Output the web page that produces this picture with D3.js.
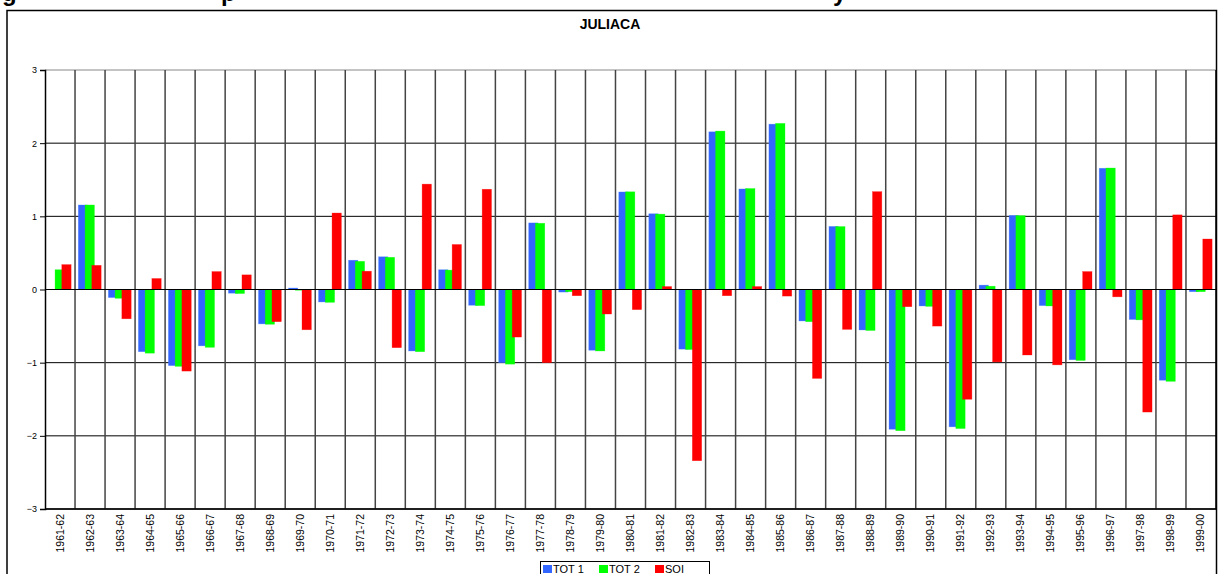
<!DOCTYPE html>
<html><head><meta charset="utf-8">
<script src="https://cdn.jsdelivr.net/npm/d3@7"></script>
<style>body{margin:0;background:#fff}svg{display:block}</style>
</head><body>
<script>
const categories = ["1961-62","1962-63","1963-64","1964-65","1965-66","1966-67","1967-68","1968-69","1969-70","1970-71","1971-72","1972-73","1973-74","1974-75","1975-76","1976-77","1977-78","1978-79","1979-80","1980-81","1981-82","1982-83","1983-84","1984-85","1985-86","1986-87","1987-88","1988-89","1989-90","1990-91","1991-92","1992-93","1993-94","1994-95","1995-96","1996-97","1997-98","1998-99","1999-00"];
const tot1 = [null,1.155,-0.11,-0.85,-1.04,-0.77,-0.05,-0.47,0.02,-0.17,0.40,0.447,-0.84,0.27,-0.215,-1.00,0.91,-0.035,-0.83,1.333,1.035,-0.815,2.155,1.374,2.26,-0.43,0.862,-0.553,-1.91,-0.225,-1.877,0.06,1.013,-0.22,-0.96,1.657,-0.41,-1.24,-0.03];
const tot2 = [0.27,1.155,-0.12,-0.87,-1.05,-0.79,-0.055,-0.475,-0.01,-0.175,0.385,0.44,-0.85,0.265,-0.22,-1.02,0.905,-0.03,-0.84,1.335,1.03,-0.82,2.165,1.38,2.27,-0.44,0.86,-0.56,-1.93,-0.23,-1.90,0.045,1.01,-0.225,-0.97,1.66,-0.415,-1.255,-0.03];
const soi  = [0.34,0.33,-0.40,0.15,-1.115,0.245,0.20,-0.44,-0.55,1.045,0.25,-0.795,1.44,0.615,1.37,-0.65,-1.00,-0.085,-0.335,-0.275,0.04,-2.34,-0.085,0.04,-0.09,-1.215,-0.545,1.337,-0.235,-0.50,-1.50,-0.99,-0.895,-1.03,0.245,-0.10,-1.675,1.02,0.69];
const seriesNames = ["TOT 1","TOT 2","SOI"];
const seriesColors = ["#3366ff","#00ff00","#ff0000"];
const yTicks = [3,2,1,0,-1,-2,-3];
const chartTitle = "JULIACA";

const W = 1219, H = 574;
const svg = d3.select("body").append("svg").attr("width", W).attr("height", H);

// cut-off caption descenders at top (the reference shows only their lower parts)
const capG = svg.append("g").attr("font-family","Liberation Sans, Arial, sans-serif").attr("font-weight","bold").attr("font-size",24).attr("fill","#000");
[["g",2],["p",221],["y",833]].forEach(([t,px])=>capG.append("text").attr("x",px).attr("y",1).text(t));

// frame
svg.append("rect").attr("x",7).attr("y",10.5).attr("width",1209.5).attr("height",600)
  .attr("fill","none").attr("stroke","#000").attr("stroke-width",1.5);

svg.append("text").attr("x",610).attr("y",29).attr("text-anchor","middle")
  .attr("font-family","Liberation Sans, Arial, sans-serif").attr("font-weight","bold").attr("font-size",14)
  .text(chartTitle);

const pL = 45, pR = 1216, pT = 70, pB = 509;
const x = d3.scaleBand().domain(categories).range([pL, pR]).padding(0);
const y = d3.scaleLinear().domain([-3,3]).range([pB, pT]);
const bw = x.bandwidth();
const xs = d3.scaleBand().domain(seriesNames).range([bw*0.11, bw*0.11 + 3*bw*0.225]).padding(0);
const barW = bw*0.31;

// horizontal grid
svg.append("g").selectAll("line").data(yTicks).join("line")
  .attr("x1",pL).attr("x2",pR).attr("y1",d=>y(d)).attr("y2",d=>y(d))
  .attr("stroke",d=>d===3?"#888":"#000").attr("stroke-width",1);
// vertical grid
svg.append("g").selectAll("line").data(categories.slice(1)).join("line")
  .attr("x1",d=>x(d)).attr("x2",d=>x(d)).attr("y1",pT).attr("y2",pB)
  .attr("stroke","#444").attr("stroke-width",1.5);

// bars
const series = [tot1, tot2, soi];
series.forEach((vals, si) => {
  svg.append("g").selectAll("rect").data(categories.map((c,i)=>({c, v: vals[i]})).filter(d=>d.v!==null)).join("rect")
    .attr("x", d => x(d.c) + xs(seriesNames[si]))
    .attr("width", barW)
    .attr("y", d => y(Math.max(0,d.v)))
    .attr("height", d => Math.abs(y(d.v) - y(0)))
    .attr("fill", seriesColors[si])
    .attr("stroke", d3.color(seriesColors[si]).brighter(0.6).copy({opacity:0.5}))
    .attr("stroke-width", 0.6);
});

// zero line on top
svg.append("line").attr("x1",pL).attr("x2",pR).attr("y1",y(0)).attr("y2",y(0)).attr("stroke","#000").attr("stroke-width",1.2);
// plot borders
svg.append("line").attr("x1",pR).attr("x2",pR).attr("y1",pT).attr("y2",pB).attr("stroke","#000").attr("stroke-width",1.5);
svg.append("line").attr("x1",pL).attr("x2",pR).attr("y1",pB).attr("y2",pB).attr("stroke","#000").attr("stroke-width",1.5);

// y axis
const yAxis = svg.append("g").attr("transform",`translate(${pL},0)`)
  .call(d3.axisLeft(y).tickValues(yTicks).tickSize(5).tickFormat(d3.format("d")).tickPadding(3));
yAxis.select(".domain").attr("stroke","#000").attr("stroke-width",1.5);
yAxis.selectAll("text").attr("font-family","Liberation Sans, Arial, sans-serif").attr("font-size",9).attr("fill","#000");

// x labels
svg.append("g").selectAll("text").data(categories).join("text")
  .attr("transform", d => `translate(${x(d)+bw/2+3.5},514) rotate(-90)`)
  .attr("text-anchor","end")
  .attr("font-family","Liberation Sans Narrow, Arial Narrow, sans-serif").attr("font-size",10.5)
  .text(d=>d);

// legend
const lg = svg.append("g");
lg.append("rect").attr("x",540.5).attr("y",561.5).attr("width",169).attr("height",20).attr("fill","#fff").attr("stroke","#000").attr("stroke-width",1);
const lx = [543, 599, 655];
seriesNames.forEach((n,i)=>{
  lg.append("rect").attr("x",lx[i]).attr("y",565).attr("width",9).attr("height",8).attr("fill",seriesColors[i]);
  lg.append("text").attr("x",lx[i]+10).attr("y",573).attr("font-family","Liberation Sans, Arial, sans-serif").attr("font-size",11).text(n);
});
</script>
</body></html>
